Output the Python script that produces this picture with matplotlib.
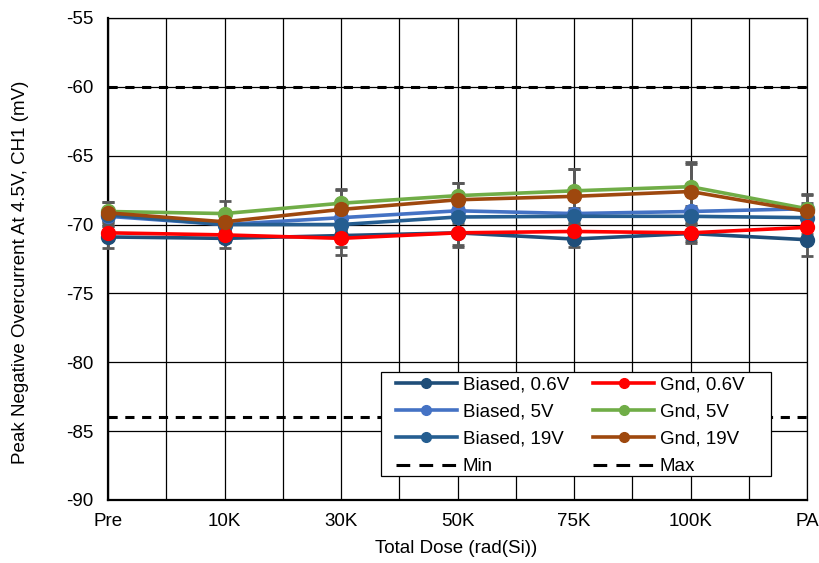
import matplotlib.pyplot as plt
from matplotlib.patches import Rectangle
import numpy as np

plt.rcParams['font.family'] = ['Liberation Sans', 'DejaVu Sans']
plt.rcParams['axes.unicode_minus'] = False

doses = ['Pre', '10K', '30K', '50K', '75K', '100K', 'PA']

biased_06 = [-70.9, -71.0, -70.8, -70.6, -71.05, -70.65, -71.1]
biased_5 = [-69.4, -70.0, -69.5, -69.0, -69.2, -69.05, -68.85]
biased_19 = [-69.3, -70.0, -70.0, -69.45, -69.4, -69.4, -69.5]
gnd_06 = [-70.6, -70.75, -71.0, -70.6, -70.5, -70.6, -70.2]
gnd_5 = [-69.05, -69.2, -68.45, -67.9, -67.55, -67.25, -68.85]
gnd_19 = [-69.15, -69.8, -68.9, -68.2, -67.95, -67.6, -69.05]

biased_06_err = [0.8, 0.7, 1.4, 1.0, 0.6, 0.7, 1.2]
biased_5_err = [0.4, 0.4, 0.4, 0.4, 0.4, 0.4, 0.4]
biased_19_err = [0.4, 0.4, 0.5, 0.4, 0.4, 0.4, 0.4]
gnd_06_err = [0.5, 0.5, 0.6, 0.9, 0.5, 0.6, 0.5]
gnd_5_err = [0.7, 0.9, 1.0, 0.9, 1.6, 1.8, 1.0]
gnd_19_err = [0.8, 0.6, 1.4, 1.2, 2.0, 2.0, 1.3]

min_limit = -84
max_limit = -60

series = [
    ('Biased, 0.6V', biased_06, biased_06_err, '#1F4E79'),
    ('Biased, 5V', biased_5, biased_5_err, '#4472C4'),
    ('Biased, 19V', biased_19, biased_19_err, '#255E91'),
    ('Gnd, 0.6V', gnd_06, gnd_06_err, '#FF0000'),
    ('Gnd, 5V', gnd_5, gnd_5_err, '#70AD47'),
    ('Gnd, 19V', gnd_19, gnd_19_err, '#9E480E'),
]

W, H = 699, 482  # axes size in px
fig = plt.figure(figsize=(8.19, 5.63), dpi=100)
ax = fig.add_axes([108 / 819, 1 - 500 / 563, W / 819, H / 563])

x = np.arange(len(doses))

# error bars first so the markers sit on top
for name, vals, err, col in series:
    ax.errorbar(x, vals, yerr=err, fmt='none', ecolor='#595959',
                elinewidth=2, capsize=4, capthick=2, zorder=3, clip_on=False)

handles = {}
for name, vals, err, col in series:
    h, = ax.plot(x, vals, color=col, lw=2.6, marker='o', markersize=10,
                 label=name, zorder=4, clip_on=False)
    handles[name] = h

h_min = ax.axhline(min_limit, color='black', ls=(0, (3, 2.5)), lw=2.2, zorder=2, label='Min')
h_max = ax.axhline(max_limit, color='black', ls=(0, (3, 2.5)), lw=2.2, zorder=2, label='Max')

ax.set_xlim(0, len(doses) - 1)
ax.set_ylim(-90, -55)
ax.set_xticks(x)
ax.set_xticklabels(doses)
ax.set_xticks(np.arange(0.5, len(doses) - 1, 1), minor=True)
ax.set_yticks(np.arange(-90, -54, 5))
ax.tick_params(axis='both', which='both', length=0, labelsize=13.5)
ax.tick_params(axis='y', pad=10.5)
ax.tick_params(axis='x', pad=9)
ax.grid(True, which='major', axis='y', color='black', lw=0.9)
ax.grid(True, which='both', axis='x', color='black', lw=0.9)
ax.set_axisbelow(True)
for s in ['left', 'bottom']:
    ax.spines[s].set_linewidth(1.6)
for s in ['top', 'right']:
    ax.spines[s].set_linewidth(0.9)

ax.set_xlabel('Total Dose (rad(Si))', fontsize=13.5)
ax.set_ylabel('Peak Negative Overcurrent At 4.5V, CH1 (mV)', fontsize=13.5)
ax.xaxis.set_label_coords(0.4985, -0.083)
ax.yaxis.set_label_coords(-0.113, 0.473)

# legend box drawn separately so it can be wider than its entries
box = Rectangle(((381 - 108) / W, (500 - 476) / H), 390 / W, 104 / H,
                transform=ax.transAxes, facecolor='white', edgecolor='black',
                lw=0.9, zorder=5, clip_on=False)
ax.add_patch(box)

order = ['Biased, 0.6V', 'Biased, 5V', 'Biased, 19V']
order2 = ['Gnd, 0.6V', 'Gnd, 5V', 'Gnd, 19V']
leg_handles = [handles[n] for n in order] + [h_min] + [handles[n] for n in order2] + [h_max]
leg_labels = order + ['Min'] + order2 + ['Max']
leg = ax.legend(leg_handles, leg_labels, ncol=2, loc='upper left',
                bbox_to_anchor=((396 - 108) / W, (500 - 376) / H),
                fontsize=13.5, frameon=False, handlelength=3.25,
                handletextpad=0.3, columnspacing=1.3, labelspacing=0.55,
                borderpad=0, borderaxespad=0, markerscale=0.7)
leg.set_zorder(6)
for line in leg.get_lines():
    if line.get_linestyle() == '--':
        line.set_dashes((4.5, 3))

fig.savefig('out.png', dpi=100)
